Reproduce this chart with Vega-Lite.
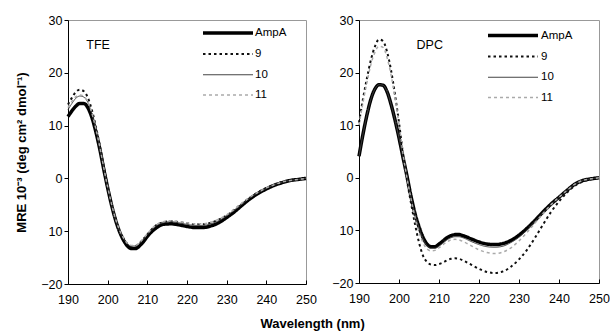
{
  "$schema": "https://vega.github.io/schema/vega-lite/v6.json",
  "padding": {"left": 15, "top": 13, "right": 0, "bottom": 0},
  "background": "white",
  "config": {
    "font": "Liberation Sans",
    "view": {"stroke": "#999999", "strokeWidth": 1},
    "axis": {"grid": false, "domainColor": "#000000", "tickColor": "#000000", "tickSize": 4, "labelFont": "Liberation Sans", "labelFontSize": 12.5, "labelColor": "#000000", "labelOverlap": false, "titleFont": "Liberation Sans", "titleFontSize": 13, "titleFontWeight": "bold", "titleColor": "#000000"},
    "legend": {"labelFont": "Liberation Sans", "labelFontSize": 11.5, "labelColor": "#000000", "padding": 0, "offset": 0}
  },
  "title": {"text": "Wavelength (nm)", "orient": "bottom", "anchor": "middle", "fontSize": 13, "fontWeight": "bold", "font": "Liberation Sans", "color": "#000000", "offset": 12},
  "datasets": {
    "tfe": [
      {"w":190,"AmpA":11.7,"9":14.0,"10":13.0,"11":13.4},
      {"w":191,"AmpA":12.8,"9":15.3,"10":14.2,"11":14.6},
      {"w":192,"AmpA":13.7,"9":16.4,"10":15.2,"11":15.5},
      {"w":193,"AmpA":14.2,"9":16.8,"10":15.6,"11":15.8},
      {"w":194,"AmpA":14.2,"9":16.5,"10":15.4,"11":15.5},
      {"w":195,"AmpA":13.4,"9":15.3,"10":14.4,"11":14.5},
      {"w":196,"AmpA":11.6,"9":13.0,"10":12.3,"11":12.4},
      {"w":197,"AmpA":8.9,"9":9.9,"10":9.4,"11":9.5},
      {"w":198,"AmpA":5.6,"9":6.3,"10":5.9,"11":6.0},
      {"w":199,"AmpA":1.8,"9":2.3,"10":2.0,"11":2.1},
      {"w":200,"AmpA":-1.8,"9":-1.5,"10":-1.7,"11":-1.6},
      {"w":201,"AmpA":-5.1,"9":-4.9,"10":-5.0,"11":-4.9},
      {"w":202,"AmpA":-7.9,"9":-7.7,"10":-7.8,"11":-7.7},
      {"w":203,"AmpA":-10.1,"9":-9.9,"10":-9.9,"11":-9.8},
      {"w":204,"AmpA":-11.7,"9":-11.4,"10":-11.4,"11":-11.3},
      {"w":205,"AmpA":-12.8,"9":-12.4,"10":-12.4,"11":-12.3},
      {"w":206,"AmpA":-13.3,"9":-12.8,"10":-12.8,"11":-12.7},
      {"w":207,"AmpA":-13.3,"9":-12.8,"10":-12.8,"11":-12.7},
      {"w":208,"AmpA":-12.8,"9":-12.3,"10":-12.3,"11":-12.2},
      {"w":209,"AmpA":-12.0,"9":-11.5,"10":-11.5,"11":-11.4},
      {"w":210,"AmpA":-11.0,"9":-10.6,"10":-10.6,"11":-10.5},
      {"w":212,"AmpA":-9.5,"9":-9.0,"10":-9.1,"11":-8.9},
      {"w":214,"AmpA":-8.7,"9":-8.3,"10":-8.4,"11":-8.2},
      {"w":216,"AmpA":-8.6,"9":-8.1,"10":-8.2,"11":-8.0},
      {"w":218,"AmpA":-8.8,"9":-8.3,"10":-8.4,"11":-8.2},
      {"w":220,"AmpA":-9.1,"9":-8.5,"10":-8.7,"11":-8.4},
      {"w":222,"AmpA":-9.3,"9":-8.7,"10":-8.9,"11":-8.6},
      {"w":224,"AmpA":-9.3,"9":-8.7,"10":-8.9,"11":-8.6},
      {"w":226,"AmpA":-9.0,"9":-8.4,"10":-8.6,"11":-8.3},
      {"w":228,"AmpA":-8.4,"9":-7.8,"10":-8.0,"11":-7.7},
      {"w":230,"AmpA":-7.4,"9":-7.0,"10":-7.1,"11":-6.9},
      {"w":232,"AmpA":-6.3,"9":-5.9,"10":-6.0,"11":-5.8},
      {"w":234,"AmpA":-5.0,"9":-4.7,"10":-4.8,"11":-4.6},
      {"w":236,"AmpA":-3.8,"9":-3.6,"10":-3.6,"11":-3.5},
      {"w":238,"AmpA":-2.8,"9":-2.6,"10":-2.7,"11":-2.6},
      {"w":240,"AmpA":-2.0,"9":-1.8,"10":-1.9,"11":-1.8},
      {"w":242,"AmpA":-1.3,"9":-1.2,"10":-1.2,"11":-1.2},
      {"w":244,"AmpA":-0.8,"9":-0.7,"10":-0.7,"11":-0.7},
      {"w":246,"AmpA":-0.4,"9":-0.4,"10":-0.4,"11":-0.4},
      {"w":248,"AmpA":-0.2,"9":-0.2,"10":-0.2,"11":-0.2},
      {"w":250,"AmpA":0.0,"9":0.0,"10":0.0,"11":0.0}
    ],
    "dpc": [
      {"w":190,"AmpA":4.1,"9":10.5,"10":4.1,"11":10.0},
      {"w":191,"AmpA":8.3,"9":15.0,"10":8.3,"11":14.3},
      {"w":192,"AmpA":12.0,"9":19.0,"10":12.0,"11":18.2},
      {"w":193,"AmpA":15.0,"9":22.5,"10":15.0,"11":21.6},
      {"w":194,"AmpA":16.9,"9":25.0,"10":16.9,"11":23.9},
      {"w":195,"AmpA":17.7,"9":26.3,"10":17.7,"11":25.0},
      {"w":196,"AmpA":17.6,"9":26.0,"10":17.6,"11":24.8},
      {"w":197,"AmpA":16.4,"9":24.0,"10":16.4,"11":22.9},
      {"w":198,"AmpA":14.0,"9":20.5,"10":14.0,"11":19.6},
      {"w":199,"AmpA":11.0,"9":15.8,"10":11.0,"11":15.2},
      {"w":200,"AmpA":7.6,"9":10.5,"10":7.6,"11":10.2},
      {"w":201,"AmpA":3.9,"9":4.5,"10":3.9,"11":4.6},
      {"w":202,"AmpA":0.3,"9":-0.5,"10":0.2,"11":-0.1},
      {"w":203,"AmpA":-3.5,"9":-4.8,"10":-3.6,"11":-4.0},
      {"w":204,"AmpA":-6.8,"9":-8.8,"10":-7.0,"11":-7.5},
      {"w":205,"AmpA":-9.3,"9":-12.3,"10":-9.5,"11":-10.3},
      {"w":206,"AmpA":-11.3,"9":-14.8,"10":-11.6,"11":-12.3},
      {"w":207,"AmpA":-12.6,"9":-16.0,"10":-12.9,"11":-13.5},
      {"w":208,"AmpA":-13.1,"9":-16.5,"10":-13.4,"11":-13.9},
      {"w":209,"AmpA":-13.1,"9":-16.6,"10":-13.4,"11":-13.8},
      {"w":210,"AmpA":-12.6,"9":-16.4,"10":-13.0,"11":-13.3},
      {"w":211,"AmpA":-12.0,"9":-16.1,"10":-12.4,"11":-12.7},
      {"w":212,"AmpA":-11.4,"9":-15.7,"10":-11.8,"11":-12.2},
      {"w":213,"AmpA":-11.0,"9":-15.4,"10":-11.4,"11":-11.8},
      {"w":214,"AmpA":-10.8,"9":-15.3,"10":-11.2,"11":-11.7},
      {"w":215,"AmpA":-10.8,"9":-15.4,"10":-11.2,"11":-11.8},
      {"w":216,"AmpA":-11.0,"9":-15.7,"10":-11.4,"11":-12.1},
      {"w":218,"AmpA":-11.6,"9":-16.5,"10":-12.1,"11":-12.9},
      {"w":220,"AmpA":-12.2,"9":-17.3,"10":-12.7,"11":-13.7},
      {"w":222,"AmpA":-12.6,"9":-17.9,"10":-13.1,"11":-14.2},
      {"w":224,"AmpA":-12.7,"9":-18.1,"10":-13.2,"11":-14.4},
      {"w":226,"AmpA":-12.5,"9":-17.8,"10":-13.0,"11":-14.1},
      {"w":228,"AmpA":-11.9,"9":-16.9,"10":-12.3,"11":-13.3},
      {"w":230,"AmpA":-10.9,"9":-15.5,"10":-11.3,"11":-12.0},
      {"w":232,"AmpA":-9.6,"9":-13.7,"10":-9.9,"11":-10.4},
      {"w":234,"AmpA":-8.1,"9":-11.4,"10":-8.3,"11":-8.6},
      {"w":236,"AmpA":-6.5,"9":-8.9,"10":-6.6,"11":-6.8},
      {"w":238,"AmpA":-5.0,"9":-6.5,"10":-5.1,"11":-5.1},
      {"w":240,"AmpA":-3.7,"9":-4.5,"10":-3.7,"11":-3.7},
      {"w":242,"AmpA":-2.4,"9":-2.8,"10":-2.4,"11":-2.4},
      {"w":244,"AmpA":-1.2,"9":-1.5,"10":-1.2,"11":-1.2},
      {"w":246,"AmpA":-0.5,"9":-0.7,"10":-0.5,"11":-0.5},
      {"w":248,"AmpA":-0.2,"9":-0.3,"10":-0.2,"11":-0.2},
      {"w":250,"AmpA":0.0,"9":0.0,"10":0.0,"11":0.0}
    ],
    "labels": [
      {"panel":"TFE","w":197.6,"mre":25.2},
      {"panel":"DPC","w":207.7,"mre":25.2}
    ]
  },
  "spacing": 14,
  "hconcat": [
    {
      "width": 238,
      "height": 264,
      "encoding": {
        "x": {"field": "w", "type": "quantitative", "scale": {"domain": [190, 250], "nice": false}, "axis": {"values": [190,200,210,220,230,240,250], "title": null, "tickSize": -4, "labelPadding": 13, "labelOverlap": false, "labelFlush": false}},
        "y": {"field": "mre", "type": "quantitative", "scale": {"domain": [-20, 30], "nice": false}, "axis": {"values": [-20,-10,0,10,20,30], "title": "MRE 10⁻³ (deg cm² dmol⁻¹)", "titlePadding": 12, "labelOverlap": false, "labelFlush": false, "labelExpr": "datum.value == -10 ? '10' : datum.label"}}
      },
      "layer": [
        {
          "data": {"name": "tfe"},
          "transform": [{"fold": ["AmpA", "9", "10", "11"], "as": ["series", "mre"]}],
          "mark": {"type": "line", "interpolate": "monotone"},
          "encoding": {
            "color": {"field": "series", "type": "nominal", "scale": {"domain": ["AmpA","9","10","11"], "range": ["#000000","#111111","#444444","#aaaaaa"]}, "legend": {"orient": "none", "legendX": 153, "legendY": 6, "title": null, "symbolType": "M-5,0H5", "symbolSize": 100, "labelOffset": 20, "rowPadding": 8}},
            "strokeDash": {"field": "series", "type": "nominal", "scale": {"domain": ["AmpA","9","10","11"], "range": [[1,0],[2.5,3],[1,0],[3,3]]}, "legend": {"orient": "none", "legendX": 153, "legendY": 6, "title": null, "symbolType": "M-5,0H5", "symbolSize": 100, "labelOffset": 20, "rowPadding": 8}},
            "strokeWidth": {"field": "series", "type": "nominal", "scale": {"type": "ordinal", "domain": ["AmpA","9","10","11"], "range": [3.5, 2, 1, 1.5]}, "legend": {"orient": "none", "legendX": 153, "legendY": 6, "title": null, "symbolType": "M-5,0H5", "symbolSize": 100, "labelOffset": 20, "rowPadding": 8}}
          }
        },
        {
          "data": {"name": "labels"},
          "transform": [{"filter": "datum.panel == 'TFE'"}],
          "mark": {"type": "text", "fontSize": 12.5, "font": "Liberation Sans", "color": "#000000"},
          "encoding": {"text": {"field": "panel"}}
        }
      ]
    },
    {
      "width": 240,
      "height": 263,
      "encoding": {
        "x": {"field": "w", "type": "quantitative", "scale": {"domain": [190, 250], "nice": false}, "axis": {"values": [190,200,210,220,230,240,250], "title": null, "tickSize": -4, "labelPadding": 13, "labelOverlap": false, "labelFlush": false}},
        "y": {"field": "mre", "type": "quantitative", "scale": {"domain": [-20, 30], "nice": false}, "axis": {"values": [-20,-10,0,10,20,30], "title": null, "labelOverlap": false, "labelFlush": false, "labelExpr": "datum.value == -10 ? '10' : datum.label"}}
      },
      "layer": [
        {
          "data": {"name": "dpc"},
          "transform": [{"fold": ["AmpA", "9", "10", "11"], "as": ["series", "mre"]}],
          "mark": {"type": "line", "interpolate": "monotone"},
          "encoding": {
            "color": {"field": "series", "type": "nominal", "scale": {"domain": ["AmpA","9","10","11"], "range": ["#000000","#111111","#444444","#aaaaaa"]}, "legend": {"orient": "none", "legendX": 147, "legendY": 8.5, "title": null, "symbolType": "M-5,0H5", "symbolSize": 100, "labelOffset": 21, "rowPadding": 8}},
            "strokeDash": {"field": "series", "type": "nominal", "scale": {"domain": ["AmpA","9","10","11"], "range": [[1,0],[2.5,3],[1,0],[3,3]]}, "legend": {"orient": "none", "legendX": 147, "legendY": 8.5, "title": null, "symbolType": "M-5,0H5", "symbolSize": 100, "labelOffset": 21, "rowPadding": 8}},
            "strokeWidth": {"field": "series", "type": "nominal", "scale": {"type": "ordinal", "domain": ["AmpA","9","10","11"], "range": [3.5, 2, 1, 1.5]}, "legend": {"orient": "none", "legendX": 147, "legendY": 8.5, "title": null, "symbolType": "M-5,0H5", "symbolSize": 100, "labelOffset": 21, "rowPadding": 8}}
          }
        },
        {
          "data": {"name": "labels"},
          "transform": [{"filter": "datum.panel == 'DPC'"}],
          "mark": {"type": "text", "fontSize": 12.5, "font": "Liberation Sans", "color": "#000000"},
          "encoding": {"text": {"field": "panel"}}
        }
      ]
    }
  ],
  "resolve": {
    "scale": {"color": "independent", "strokeDash": "independent", "strokeWidth": "independent"},
    "legend": {"color": "independent", "strokeDash": "independent", "strokeWidth": "independent"}
  }
}
